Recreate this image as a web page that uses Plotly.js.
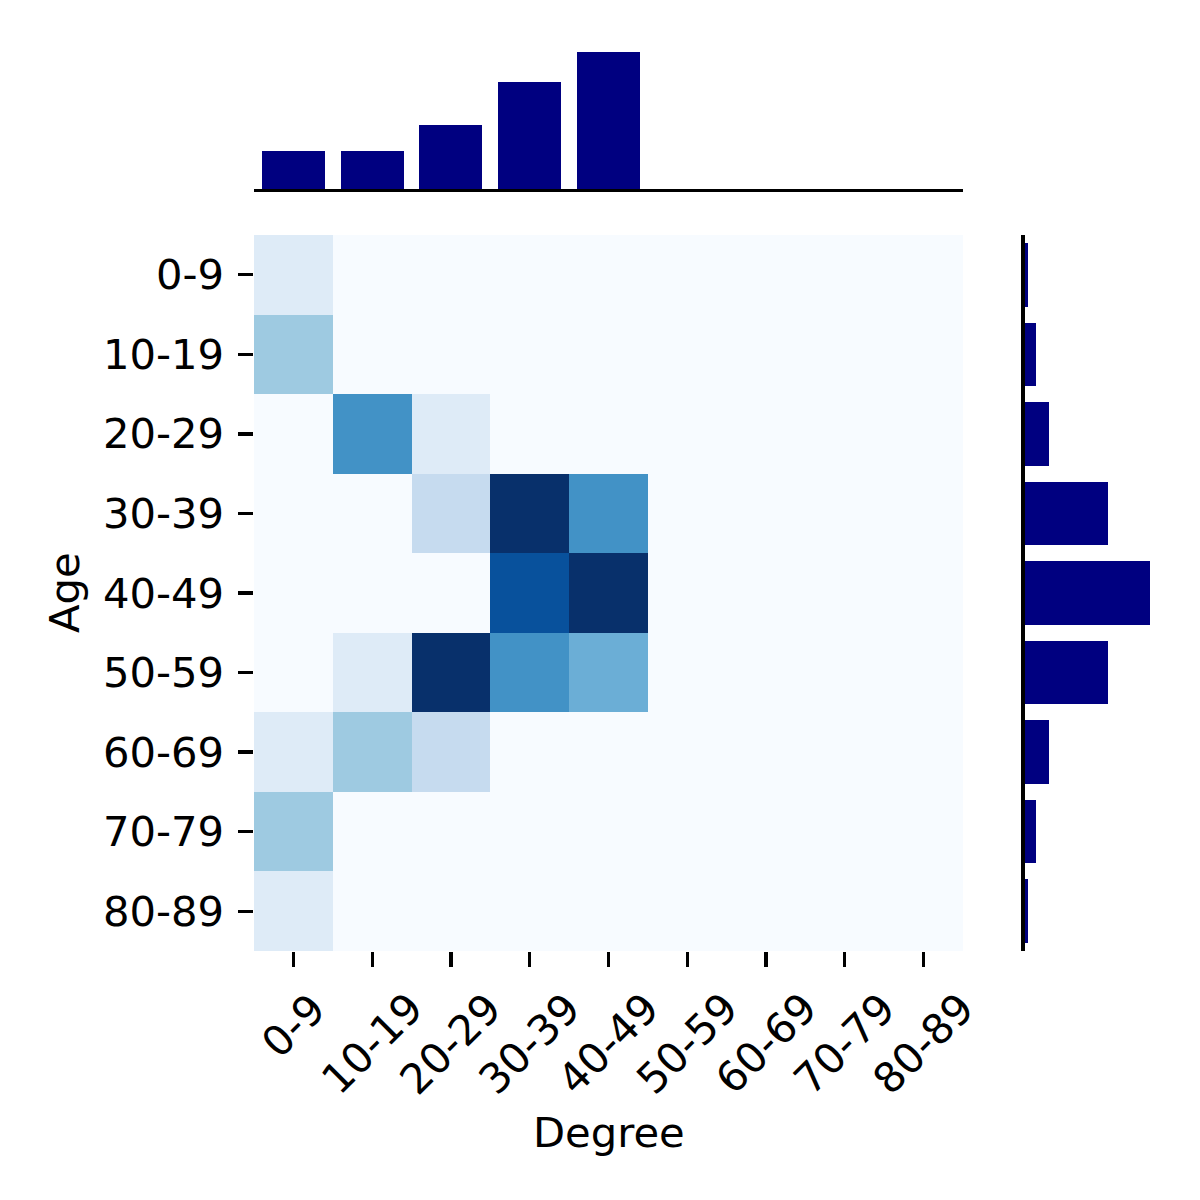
<!DOCTYPE html>
<html>
<head>
<meta charset="utf-8">
<script src="https://cdn.plot.ly/plotly-3.0.1.min.js"></script>
<style>
  html, body { margin: 0; padding: 0; background: #fff; }
  #joint { width: 1200px; height: 1200px; }
</style>
</head>
<body>
<div id="joint"></div>
<script>
/* ---------- data ---------- */
const degreeBins = ['0-9', '10-19', '20-29', '30-39', '40-49', '50-59', '60-69', '70-79', '80-89'];
const ageBins    = ['0-9', '10-19', '20-29', '30-39', '40-49', '50-59', '60-69', '70-79', '80-89'];

// heatmap cell values, one row per age bin, columns follow degreeBins
const cellValues = [
  [1, 0, 0, 0, 0, 0, 0, 0, 0],
  [3, 0, 0, 0, 0, 0, 0, 0, 0],
  [0, 5, 1, 0, 0, 0, 0, 0, 0],
  [0, 0, 2, 8, 5, 0, 0, 0, 0],
  [0, 0, 0, 7, 8, 0, 0, 0, 0],
  [0, 1, 8, 5, 4, 0, 0, 0, 0],
  [1, 3, 2, 0, 0, 0, 0, 0, 0],
  [3, 0, 0, 0, 0, 0, 0, 0, 0],
  [1, 0, 0, 0, 0, 0, 0, 0, 0],
];

// marginal bars (share of samples, %)
const degreeShare = [9.9, 9.9, 16.7, 27.8, 35.6, 0, 0, 0, 0];
const ageShare    = [0.9, 3.0, 6.4, 21.8, 32.8, 21.8, 6.4, 3.0, 0.9];

/* ---------- geometry (px in a 1200x1200 page) ---------- */
const SIZE = 1200;
const px = v => v / SIZE;              // horizontal px -> paper
const py = v => 1 - v / SIZE;          // vertical px (from top) -> paper

const HM = { l: 254, r: 963, t: 235, b: 951 };
const TOP = { t: 45, b: 189 };
const SIDE = { l: 1024.7, r: 1167.2 };
const MARG_MAX = 37.33;

const FONT = 'DejaVu Sans, Liberation Sans, sans-serif';
const FS = 41.7;
const NAVY = '#000080';

const blues = [
  [0.000, '#f7fbff'], [0.125, '#deebf7'], [0.250, '#c6dbef'],
  [0.375, '#9ecae1'], [0.500, '#6baed6'], [0.625, '#4292c6'],
  [0.750, '#2171b5'], [0.875, '#08519c'], [1.000, '#08306b'],
];

/* ---------- traces ---------- */
const heat = {
  type: 'heatmap',
  x: degreeBins, y: ageBins, z: cellValues,
  colorscale: blues, zmin: 0, zmax: 8,
  showscale: false, hoverongaps: false,
  xaxis: 'x', yaxis: 'y',
};

const topBars = {
  type: 'bar',
  x: degreeBins, y: degreeShare,
  width: 0.8, marker: { color: NAVY, line: { width: 0 } },
  xaxis: 'x2', yaxis: 'y2',
};

const sideBars = {
  type: 'bar', orientation: 'h',
  x: ageShare, y: ageBins,
  width: 0.8, marker: { color: NAVY, line: { width: 0 } },
  xaxis: 'x3', yaxis: 'y3',
};

/* ---------- axes ---------- */
const hidden = {
  showgrid: false, zeroline: false, showline: false,
  ticks: '', showticklabels: false, fixedrange: true,
};

const layout = {
  width: SIZE, height: SIZE,
  margin: { l: 0, r: 0, t: 0, b: 0 },
  paper_bgcolor: '#fff', plot_bgcolor: '#fff',
  font: { family: FONT, size: FS, color: '#000' },
  showlegend: false,
  bargap: 0,

  xaxis: Object.assign({}, hidden, {
    type: 'category', categoryarray: degreeBins,
    domain: [px(HM.l), px(HM.r)], range: [-0.5, 8.5],
    anchor: 'y',
    ticks: 'outside', ticklen: 14.6, tickwidth: 3.3, tickcolor: '#000',
  }),
  yaxis: Object.assign({}, hidden, {
    type: 'category', categoryarray: ageBins,
    domain: [py(HM.b), py(HM.t)], range: [8.5, -0.5],
    anchor: 'x',
    ticks: 'outside', ticklen: 14.6, tickwidth: 3.3, tickcolor: '#000',
    showticklabels: true, ticklabelstandoff: 6,
    tickfont: { family: FONT, size: FS, color: '#000' },
  }),

  xaxis2: Object.assign({}, hidden, {
    type: 'category', categoryarray: degreeBins,
    domain: [px(HM.l), px(HM.r)], range: [-0.5, 8.5],
    anchor: 'y2',
    showline: true, linecolor: '#000', linewidth: 3.3,
  }),
  yaxis2: Object.assign({}, hidden, {
    domain: [py(TOP.b), py(TOP.t)], range: [0, MARG_MAX],
    anchor: 'x2',
  }),

  xaxis3: Object.assign({}, hidden, {
    domain: [px(SIDE.l), px(SIDE.r)], range: [0, MARG_MAX],
    anchor: 'y3',
  }),
  yaxis3: Object.assign({}, hidden, {
    type: 'category', categoryarray: ageBins,
    domain: [py(HM.b), py(HM.t)], range: [8.5, -0.5],
    anchor: 'x3',
    showline: true, linecolor: '#000', linewidth: 3.3,
  }),

  annotations: [],
};

/* rotated degree labels, centred under each tick like matplotlib */
degreeBins.forEach(lbl => {
  layout.annotations.push({
    x: lbl, xref: 'x', y: py(981), yref: 'paper',
    text: lbl, showarrow: false, textangle: -45,
    xanchor: 'center', yanchor: 'top',
    font: { family: FONT, size: FS, color: '#000' },
  });
});

layout.annotations.push(
  { x: px((HM.l + HM.r) / 2), y: py(1132), xref: 'paper', yref: 'paper',
    text: 'Degree', showarrow: false, xanchor: 'center', yanchor: 'middle',
    font: { family: FONT, size: FS, color: '#000' } },
  { x: px(64), y: py((HM.t + HM.b) / 2), xref: 'paper', yref: 'paper',
    text: 'Age', showarrow: false, textangle: -90, xanchor: 'center', yanchor: 'middle',
    font: { family: FONT, size: FS, color: '#000' } }
);

Plotly.newPlot('joint', [heat, topBars, sideBars], layout, { staticPlot: true, displayModeBar: false });
</script>
</body>
</html>
